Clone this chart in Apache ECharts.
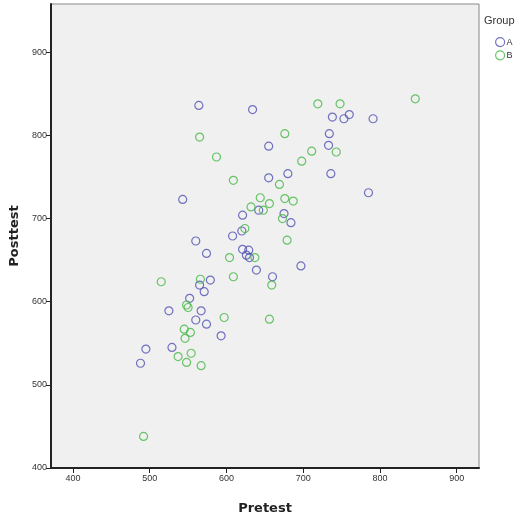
<!DOCTYPE html>
<html>
<head>
<meta charset="utf-8">
<script src="https://cdn.jsdelivr.net/npm/echarts@6/dist/echarts.min.js"></script>
<style>
  html, body { margin: 0; padding: 0; background: #fff; }
  #chart { width: 525px; height: 530px; }
</style>
</head>
<body>
<div id="chart"></div>
<script>
// Group A (blue) - [pretest, posttest]
const groupA = [
  [564, 836], [634, 831], [655, 787], [655, 749], [543, 723], [738, 822],
  [753, 820], [760, 825], [791, 820], [734, 802], [733, 788], [680, 754],
  [736, 754], [785, 731], [642, 710], [675, 706], [684, 695], [621, 704],
  [620, 685], [608, 679], [560, 673], [574, 658], [621, 663], [629, 662],
  [626, 656], [630, 653], [639, 638], [697, 643], [660, 630], [579, 626],
  [565, 620], [571, 612], [552, 604], [567, 589], [525, 589], [560, 578],
  [574, 573], [593, 559], [495, 543], [529, 545], [488, 526]
];
// Group B (green)
const groupB = [
  [565, 798], [587, 774], [609, 746], [644, 725], [719, 838], [748, 838],
  [846, 844], [676, 802], [743, 780], [711, 781], [698, 769], [669, 741],
  [676, 724], [687, 721], [656, 718], [632, 714], [648, 710], [673, 700],
  [679, 674], [624, 688], [604, 653], [637, 653], [609, 630], [659, 620],
  [566, 627], [515, 624], [548, 596], [550, 593], [597, 581], [656, 579],
  [545, 567], [553, 563], [546, 556], [554, 538], [537, 534], [548, 527],
  [567, 523], [492, 438]
];
const xTicks = [400, 500, 600, 700, 800, 900];
const yTicks = [400, 500, 600, 700, 800, 900];

const blue = '#5050b4';
const green = '#44b844';

const chart = echarts.init(document.getElementById('chart'));

const labelStyle = { color: '#333', fontSize: 9, fontFamily: 'Liberation Sans Narrow, Arial Narrow, sans-serif' };

const option = {
  animation: false,
  title: {
    text: 'Group',
    left: 479,
    top: 10,
    textStyle: { fontSize: 11, fontWeight: 'normal', color: '#333', fontFamily: 'Liberation Sans, Arial, sans-serif' }
  },
  legend: {
    orient: 'vertical',
    left: 490,
    top: 32,
    itemWidth: 9,
    itemHeight: 9,
    itemGap: 3,
    textStyle: { fontSize: 9, color: '#333', padding: [0, 0, 0, -3] },
    data: [
      { name: 'A', icon: 'circle', itemStyle: { color: 'rgba(0,0,0,0)', borderColor: blue, borderWidth: 1.2 } },
      { name: 'B', icon: 'circle', itemStyle: { color: 'rgba(0,0,0,0)', borderColor: green, borderWidth: 1.2 } }
    ]
  },
  grid: {
    left: 51, right: 46, top: 4, bottom: 62,
    show: true,
    backgroundColor: '#f0f0f0',
    borderColor: '#888',
    borderWidth: 1
  },
  xAxis: {
    type: 'value',
    min: 371.4,
    max: 929,
    name: 'Pretest',
    nameLocation: 'middle',
    nameGap: 34,
    nameTextStyle: { fontSize: 13, fontWeight: 'bold', color: '#222', fontFamily: 'DejaVu Sans, sans-serif' },
    axisLine: { show: true, lineStyle: { color: '#222', width: 2 } },
    axisTick: { show: true, length: 5, customValues: xTicks, lineStyle: { color: '#222' } },
    axisLabel: Object.assign({ customValues: xTicks, margin: 6 }, labelStyle),
    splitLine: { show: false }
  },
  yAxis: {
    type: 'value',
    min: 400,
    max: 958,
    name: 'Posttest',
    nameLocation: 'middle',
    nameGap: 25,
    nameTextStyle: { fontSize: 13, fontWeight: 'bold', color: '#222', fontFamily: 'DejaVu Sans, sans-serif' },
    axisLine: { show: true, lineStyle: { color: '#222', width: 2 } },
    axisTick: { show: true, length: 5, customValues: yTicks, lineStyle: { color: '#222' } },
    axisLabel: Object.assign({ customValues: yTicks, margin: 4 }, labelStyle),
    splitLine: { show: false }
  },
  series: [
    {
      name: 'A',
      type: 'scatter',
      data: groupA,
      symbol: 'circle',
      symbolSize: 8,
      itemStyle: { color: 'rgba(0,0,0,0)', borderColor: blue, borderWidth: 1.2 }
    },
    {
      name: 'B',
      type: 'scatter',
      data: groupB,
      symbol: 'circle',
      symbolSize: 8,
      itemStyle: { color: 'rgba(0,0,0,0)', borderColor: green, borderWidth: 1.2 }
    }
  ]
};

chart.setOption(option);
</script>
</body>
</html>
